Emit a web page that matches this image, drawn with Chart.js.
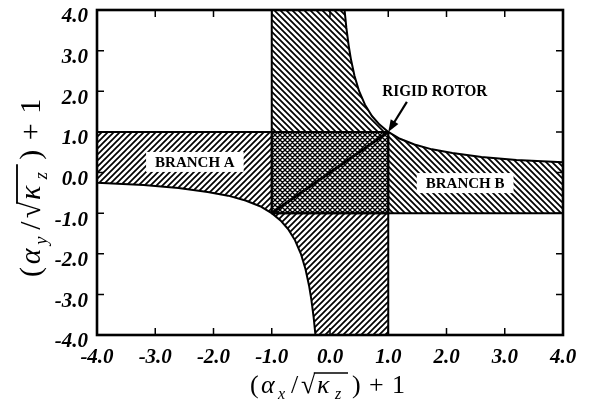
<!DOCTYPE html>
<html>
<head>
<meta charset="utf-8">
<script src="https://cdn.jsdelivr.net/npm/chart.js@4.4.1/dist/chart.umd.min.js"></script>
<style>
  html, body { margin: 0; padding: 0; background: #fff; }
</style>
</head>
<body>
<canvas id="chart" width="590" height="410"></canvas>
<script>
// axis range
const axisMin = -4;
const axisMax = 4;

// edges of the two bands
const bandLo = -1;
const bandHi = 1;

// upper branch of the boundary curve, left to right
const upperCurveX = [0.25, 0.28, 0.32, 0.36, 0.42, 0.5, 0.6, 0.72, 0.85, 1.0, 1.2, 1.45, 1.75, 2.1, 2.6, 3.2, 4.0];
const upperCurveY = [4.0, 3.57, 3.13, 2.78, 2.38, 2.0, 1.67, 1.39, 1.18, 1.0, 0.83, 0.69, 0.57, 0.48, 0.38, 0.31, 0.25];

// lower branch of the boundary curve, left to right
const lowerCurveX = [-4.0, -3.2, -2.6, -2.1, -1.75, -1.45, -1.2, -1.0, -0.85, -0.72, -0.6, -0.5, -0.42, -0.36, -0.32, -0.28, -0.25];
const lowerCurveY = [-0.25, -0.31, -0.38, -0.48, -0.57, -0.69, -0.83, -1.0, -1.18, -1.39, -1.67, -2.0, -2.38, -2.78, -3.13, -3.57, -4.0];

// rigid rotor line
const rotorX = [-1, 1];
const rotorY = [-1, 1];

// region names and where they sit
const branchNames = ['BRANCH A', 'BRANCH B'];
const branchNameX = [-2.32, 2.32];
const branchNameY = [0.26, -0.26];

const rotorName = 'RIGID ROTOR';
const rotorNameAt = [1.80, 2.0];
const rotorArrowTail = [1.32, 1.74];

const ctx = document.getElementById('chart').getContext('2d');

// tiled line patterns for the shaded regions
function hatch(kind, size, width) {
  const c = document.createElement('canvas');
  c.width = c.height = size;
  const g = c.getContext('2d');
  g.strokeStyle = '#000';
  g.lineWidth = width;
  g.beginPath();
  const dirs = kind === 'cross' ? ['/', '\\'] : [kind];
  dirs.forEach(d => {
    if (d === '/') {
      g.moveTo(-1, size + 1); g.lineTo(size + 1, -1);
      g.moveTo(-1, 1); g.lineTo(1, -1);
      g.moveTo(size - 1, size + 1); g.lineTo(size + 1, size - 1);
    } else {
      g.moveTo(-1, -1); g.lineTo(size + 1, size + 1);
      g.moveTo(size - 1, -1); g.lineTo(size + 1, 1);
      g.moveTo(-1, size - 1); g.lineTo(1, size + 1);
    }
  });
  g.stroke();
  return ctx.createPattern(c, 'repeat');
}

const fwd = hatch('/', 6, 1.7);
const back = hatch('\\', 6, 1.7);
const cross = hatch('cross', 5, 1.4);

function pts(xs, ys) {
  return xs.map((x, i) => ({ x: x, y: ys[i] }));
}

function region(xs, ys, pattern) {
  return {
    data: pts(xs, ys),
    showLine: true,
    fill: 'shape',
    backgroundColor: pattern,
    borderColor: '#000',
    borderWidth: 2,
    pointRadius: 0,
    tension: 0
  };
}

const iUp = upperCurveX.indexOf(bandHi);
const iLow = lowerCurveX.indexOf(bandLo);

// vertical band above the square
const topBand = region(
  [bandLo, bandLo, ...upperCurveX.slice(0, iUp + 1), bandLo],
  [bandHi, axisMax, ...upperCurveY.slice(0, iUp + 1), bandHi], back);
// vertical band below the square
const bottomBand = region(
  [...lowerCurveX.slice(iLow), bandHi, bandHi, bandLo],
  [...lowerCurveY.slice(iLow), axisMin, bandLo, bandLo], fwd);
// horizontal band, left side
const branchA = region(
  [axisMin, bandLo, ...lowerCurveX.slice(0, iLow + 1).reverse(), axisMin],
  [bandHi, bandHi, ...lowerCurveY.slice(0, iLow + 1).reverse(), bandHi], fwd);
// horizontal band, right side
const branchB = region(
  [...upperCurveX.slice(iUp), axisMax, bandHi, bandHi],
  [...upperCurveY.slice(iUp), bandLo, bandLo, bandHi], back);
// overlap of both bands
const square = region(
  [bandLo, bandHi, bandHi, bandLo, bandLo],
  [bandLo, bandLo, bandHi, bandHi, bandLo], cross);

const rotor = {
  data: pts(rotorX, rotorY),
  showLine: true,
  fill: false,
  borderColor: '#000',
  borderWidth: 3,
  pointRadius: 0
};

const tickFont = { family: 'Liberation Serif', size: 21, style: 'italic', weight: 'bold' };

// axis title: (alpha_s / sqrt(kappa_z)) + 1, laid out piece by piece
function drawTitle(g, x0, y0, angle, s, sub) {
  const serif = 'Liberation Serif';
  g.save();
  g.translate(x0, y0);
  g.rotate(angle);
  g.scale(s, s);
  g.fillStyle = '#000';
  g.strokeStyle = '#000';
  g.textBaseline = 'alphabetic';
  g.textAlign = 'left';
  const main = '26px ' + serif;
  const ital = 'italic 26px ' + serif;
  const small = 'italic 16px ' + serif;
  g.font = main;
  g.fillText('(', 0, 0);
  g.font = ital;
  g.fillText('\u03b1', 11, 0);
  g.font = small;
  g.fillText(sub, 28, 6);
  g.font = main;
  g.fillText('/', 41, 0);
  g.fillText('\u221a', 51, 0);
  const rad = g.measureText('\u221a');
  const top = -rad.actualBoundingBoxAscent + 1;
  g.lineWidth = 1.6;
  g.beginPath();
  g.moveTo(51 + rad.width - 1.5, top);
  g.lineTo(98, top);
  g.stroke();
  g.font = ital;
  g.fillText('\u03ba', 67, 0);
  g.font = small;
  g.fillText('z', 85, 6);
  g.font = main;
  g.fillText(')', 102, 0);
  g.fillText('+', 119, 0);
  g.fillText('1', 142, 0);
  g.restore();
}

const decorations = {
  id: 'decorations',
  afterDatasetsDraw(chart) {
    const g = chart.ctx;
    const xs = chart.scales.x, ys = chart.scales.y;
    g.save();
    g.textAlign = 'center';
    g.textBaseline = 'middle';
    g.fillStyle = '#000';

    // region names on white boxes
    g.font = 'bold 15px Liberation Serif';
    branchNames.forEach((name, i) => {
      const px = xs.getPixelForValue(branchNameX[i]);
      const py = ys.getPixelForValue(branchNameY[i]);
      const w = g.measureText(name).width + 18;
      g.fillStyle = '#fff';
      g.fillRect(px - w / 2, py - 10, w, 20);
      g.fillStyle = '#000';
      g.fillText(name, px, py + 1, 82);
    });

    // rigid rotor label and arrow
    g.font = 'bold 17px Liberation Serif';
    g.fillText(rotorName, xs.getPixelForValue(rotorNameAt[0]), ys.getPixelForValue(rotorNameAt[1]), 105);
    const tx = xs.getPixelForValue(rotorArrowTail[0]), ty = ys.getPixelForValue(rotorArrowTail[1]);
    const hx = xs.getPixelForValue(rotorX[1]), hy = ys.getPixelForValue(rotorY[1]);
    const len = Math.hypot(hx - tx, hy - ty);
    const ux = (hx - tx) / len, uy = (hy - ty) / len;
    const head = 12, half = 4.5;
    g.strokeStyle = '#000';
    g.lineWidth = 2.2;
    g.beginPath();
    g.moveTo(tx, ty);
    g.lineTo(hx - ux * head * 0.8, hy - uy * head * 0.8);
    g.stroke();
    g.beginPath();
    g.moveTo(hx, hy);
    g.lineTo(hx - ux * head - uy * half, hy - uy * head + ux * half);
    g.lineTo(hx - ux * head + uy * half, hy - uy * head - ux * half);
    g.closePath();
    g.fill();
    g.restore();
  },
  afterDraw(chart) {
    const g = chart.ctx;
    const a = chart.chartArea;
    const xs = chart.scales.x, ys = chart.scales.y;
    g.save();
    g.strokeStyle = '#000';

    // inward tick marks on all four sides
    g.lineWidth = 1.5;
    g.beginPath();
    xs.ticks.forEach(t => {
      const px = xs.getPixelForValue(t.value);
      g.moveTo(px, a.top); g.lineTo(px, a.top + 7);
      g.moveTo(px, a.bottom); g.lineTo(px, a.bottom - 7);
    });
    ys.ticks.forEach(t => {
      const py = ys.getPixelForValue(t.value);
      g.moveTo(a.left, py); g.lineTo(a.left + 7, py);
      g.moveTo(a.right, py); g.lineTo(a.right - 7, py);
    });
    g.stroke();

    // frame
    g.lineWidth = 2.6;
    g.strokeRect(a.left, a.top, a.right - a.left, a.bottom - a.top);
    g.restore();

    drawTitle(g, 250, 393, 0, 1, 'x');
    drawTitle(g, 40, 277, -Math.PI / 2, 1.15, 'y');
  }
};

chart = new Chart(ctx, {
  type: 'scatter',
  data: { datasets: [rotor, square, topBand, bottomBand, branchA, branchB] },
  options: {
    responsive: false,
    animation: false,
    layout: { padding: { top: 10, right: 27, left: 0, bottom: 0 } },
    plugins: { legend: { display: false }, tooltip: { enabled: false } },
    scales: {
      x: {
        type: 'linear',
        min: axisMin,
        max: axisMax,
        grid: { display: false, drawTicks: false },
        border: { display: false },
        ticks: { stepSize: 1, color: '#000', font: tickFont, padding: 10, maxRotation: 0, autoSkip: false,
          callback: v => v.toFixed(1) },
        afterFit: s => { s.height = 75; s.paddingLeft = 0; s.paddingRight = 0; }
      },
      y: {
        type: 'linear',
        min: axisMin,
        max: axisMax,
        grid: { display: false, drawTicks: false },
        border: { display: false },
        ticks: { stepSize: 1, color: '#000', font: tickFont, padding: 9, labelOffset: 7, autoSkip: false,
          callback: v => v.toFixed(1) },
        afterFit: s => { s.width = 97; s.paddingTop = 0; s.paddingBottom = 0; }
      }
    }
  },
  plugins: [decorations]
});
</script>
</body>
</html>
